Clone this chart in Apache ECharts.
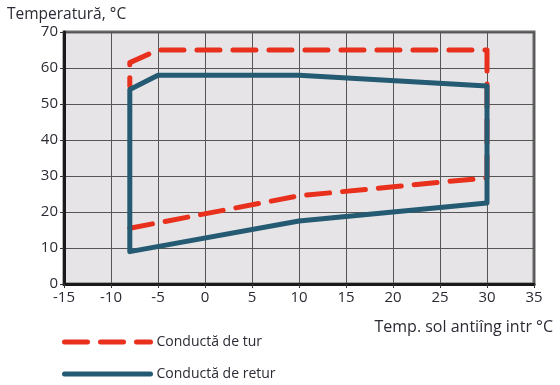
<!DOCTYPE html>
<html>
<head>
<meta charset="utf-8">
<script src="https://cdn.jsdelivr.net/npm/echarts@6/dist/echarts.min.js"></script>
<style>html,body{margin:0;padding:0;background:#fff}#c{width:560px;height:385px}</style>
</head>
<body>
<div id="c"></div>
<script>
const xTicks = [-15, -10, -5, 0, 5, 10, 15, 20, 25, 30, 35];
const yTicks = [0, 10, 20, 30, 40, 50, 60, 70];
const seriesNames = ['Conductă de tur', 'Conductă de retur'];
const turX = [-8, 10, 30, 30, -5, -8, -8];
const turY = [15.5, 24.5, 29.5, 65, 65, 61.5, 55];
const returX = [-8, 10, 30, 30, 10, -5, -8, -8];
const returY = [9, 17.5, 22.5, 55, 58, 58, 54, 9];

const zip = (xs, ys) => xs.map((x, i) => [x, ys[i]]);
const font = '"Open Sans", "Noto Sans", sans-serif';
const txt = '#2b2b35';

const chart = echarts.init(document.getElementById('c'), null, {renderer: 'canvas'});
chart.setOption({
  animation: false,
  title: [
    {text: 'Temperatură, °C', left: 2, top: 2,
     textStyle: {fontFamily: font, fontSize: 15.5, fontWeight: 'normal', color: txt}},
    {text: 'Temp. sol antiîng intr °C', right: 2, top: 314,
     textStyle: {fontFamily: font, fontSize: 16, fontWeight: 'normal', color: txt}}
  ],
  grid: {left: 64, right: 26, top: 32, bottom: 101, show: true,
         backgroundColor: '#e6e4e6', borderColor: '#666', borderWidth: 3},
  legend: {
    orient: 'vertical', left: 62, top: 335, padding: 0, height: 60,
    itemWidth: 86, itemHeight: 14, itemGap: 18,
    data: [
      {name: seriesNames[0], lineStyle: {width: 5, type: [23, 13], cap: 'round'}},
      {name: seriesNames[1], lineStyle: {width: 5, cap: 'round'}}
    ],
    itemStyle: {opacity: 0},
    textStyle: {fontFamily: font, fontSize: 14, color: txt, padding: [0, 0, 0, 1]}
  },
  xAxis: {
    type: 'value', min: xTicks[0], max: xTicks[xTicks.length - 1], interval: 5,
    axisLine: {show: true, onZero: false, lineStyle: {color: '#1a1a1a', width: 3}},
    axisTick: {show: true, length: 4, lineStyle: {color: '#333'}},
    axisLabel: {fontFamily: font, fontSize: 15, color: txt, margin: 6},
    splitLine: {show: true, lineStyle: {color: '#555', width: 1}}
  },
  yAxis: {
    type: 'value', min: yTicks[0], max: yTicks[yTicks.length - 1], interval: 10,
    axisLine: {show: true, onZero: false, lineStyle: {color: '#1a1a1a', width: 3}},
    axisTick: {show: true, length: 4, lineStyle: {color: '#333'}},
    axisLabel: {fontFamily: font, fontSize: 15, color: txt, margin: 6},
    splitLine: {show: true, lineStyle: {color: '#555', width: 1}}
  },
  series: [
    {name: seriesNames[0], type: 'line', data: zip(turX, turY), symbol: 'none',
     itemStyle: {color: '#e8301c'},
     lineStyle: {color: '#e8301c', width: 5, type: [23, 13], cap: 'round', join: 'round'}},
    {name: seriesNames[1], type: 'line', data: zip(returX, returY), symbol: 'none',
     itemStyle: {color: '#245a72'},
     lineStyle: {color: '#245a72', width: 5, cap: 'round', join: 'round'}}
  ]
});
</script>
</body>
</html>
